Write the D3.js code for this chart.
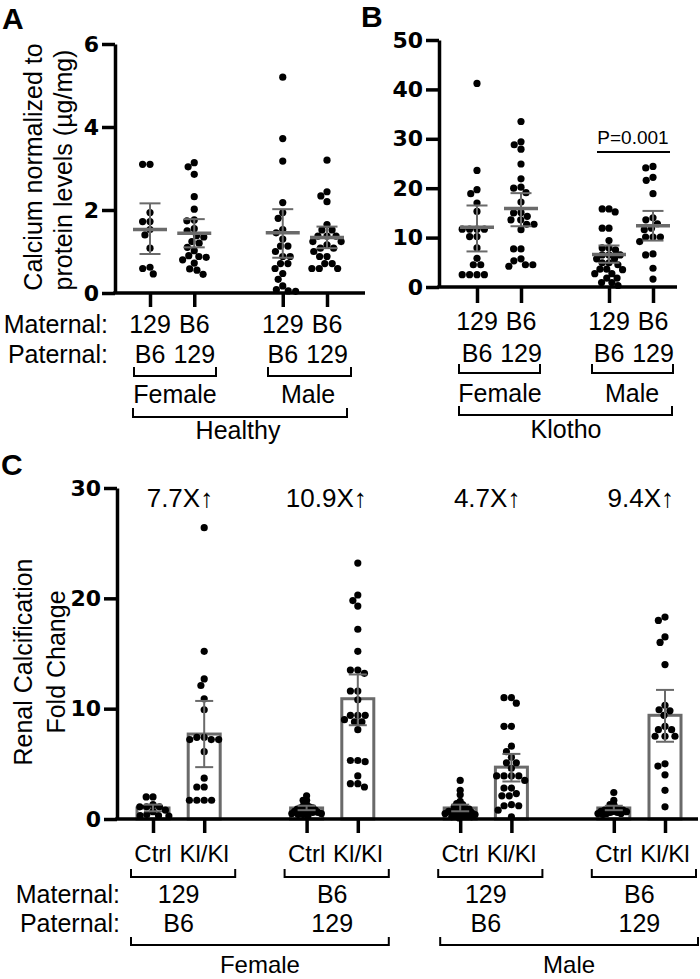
<!DOCTYPE html>
<html><head><meta charset="utf-8">
<script src="https://cdn.jsdelivr.net/npm/d3@7"></script>
<style>
body{margin:0;background:#fff}
svg{display:block}
text{font-family:"Liberation Sans",Arial,sans-serif;fill:#000}
</style>
</head><body>
<svg id="chart" width="700" height="979"></svg>
<script>
// ---------------- DATA ----------------
// Panel A (Healthy)
const aMaternal = ["129", "B6", "129", "B6"];
const aPaternal = ["B6", "129", "B6", "129"];
const aPos = [0, 1, 3, 4];
const aValues = [
  [3.10, 3.10, 1.94, 1.72, 1.72, 1.53, 1.40, 1.08, 0.62, 0.59, 0.46],
  [3.14, 3.04, 2.86, 2.32, 2.02, 1.76, 1.74, 1.55, 1.50, 1.38, 1.35, 1.24, 1.20, 1.10, 1.02, 0.90, 0.88, 0.86, 0.80, 0.72, 0.58, 0.55, 0.45],
  [5.20, 3.72, 3.18, 2.18, 1.94, 1.80, 1.53, 1.45, 1.30, 1.13, 1.13, 1.00, 0.88, 0.88, 0.71, 0.71, 0.59, 0.47, 0.33, 0.17, 0.08, 0.05, 0.04],
  [3.20, 2.44, 2.34, 2.20, 1.65, 1.52, 1.52, 1.37, 1.37, 1.37, 1.24, 1.24, 1.16, 1.08, 1.08, 1.00, 0.88, 0.88, 0.71, 0.71, 0.59, 0.59, 0.59]
];
const aMean = [1.53, 1.44, 1.45, 1.34];
const aLow = [0.94, 1.10, 0.85, 1.08];
const aHigh = [2.16, 1.78, 2.02, 1.60];
const aTicks = [0, 2, 4, 6];
const aSex = ["Female", "Male"];

// Panel B (Klotho)
const bMaternal = ["129", "B6", "129", "B6"];
const bPaternal = ["B6", "129", "B6", "129"];
const bPos = [0, 1, 3, 4];
const bValues = [
  [41.2, 23.6, 19.7, 18.9, 17.0, 15.3, 11.7, 11.7, 11.7, 11.7, 10.2, 10.2, 7.9, 5.8, 4.5, 4.5, 2.5, 2.5, 2.5, 2.5],
  [33.5, 29.4, 28.8, 27.9, 24.9, 21.9, 20.2, 20.0, 19.1, 17.2, 15.1, 15.0, 14.3, 13.6, 13.6, 12.7, 12.7, 11.6, 7.7, 7.7, 5.7, 5.3, 4.5, 4.5, 4.2],
  [15.2, 15.8, 15.8, 11.9, 11.9, 9.4, 7.9, 7.9, 7.5, 6.5, 6.5, 6.5, 5.7, 5.7, 4.9, 4.9, 4.5, 3.6, 3.6, 3.5, 2.7, 2.7, 1.8, 1.8, 0.9, 0.9, 0.3],
  [24.4, 24.1, 22.2, 21.6, 18.9, 14.0, 13.6, 12.8, 11.9, 11.6, 10.1, 10.1, 10.1, 9.2, 6.7, 6.5, 3.8, 1.6]
];
const bMean = [12.1, 15.9, 6.6, 12.4];
const bLow = [7.2, 12.3, 4.9, 9.4];
const bHigh = [16.5, 19.0, 8.4, 15.4];
const bTicks = [0, 10, 20, 30, 40, 50];
const bPvalue = "P=0.001";

// Panel C (fold change)
const cLabels = ["Ctrl", "Kl/Kl", "Ctrl", "Kl/Kl", "Ctrl", "Kl/Kl", "Ctrl", "Kl/Kl"];
const cPos = [0, 1, 3, 4, 6, 7, 9, 10];
const cValues = [
  [2.0, 2.0, 1.3, 1.1, 1.1, 1.1, 0.8, 0.66, 0.4, 0.3, 0.3, 0.27],
  [26.4, 15.2, 12.7, 12.1, 10.9, 9.9, 7.4, 7.2, 7.2, 7.2, 7.4, 6.1, 3.7, 2.9, 2.9, 1.7, 1.7, 1.7, 1.7],
  [2.1, 1.7, 1.7, 1.3, 1.2, 1.1, 1.0, 1.0, 0.9, 0.9, 0.8, 0.8, 0.7, 0.7, 0.66, 0.6, 0.6, 0.57, 0.5, 0.5, 0.4, 0.4, 0.3],
  [23.2, 20.3, 19.8, 19.3, 17.2, 15.2, 13.5, 13.5, 13.2, 11.6, 11.6, 10.8, 9.4, 9.4, 9.4, 9.0, 8.8, 8.8, 8.1, 5.3, 5.3, 5.2, 3.9, 3.2, 3.2, 2.9],
  [3.5, 2.6, 2.2, 1.6, 1.4, 1.3, 1.1, 1.1, 1.0, 0.9, 0.8, 0.8, 0.7, 0.7, 0.6, 0.6, 0.5, 0.5, 0.4, 0.4, 0.3, 0.3, 0.2, 0.2, 0.1],
  [11.0, 11.0, 10.5, 8.4, 8.4, 6.6, 6.1, 5.6, 5.1, 5.1, 4.6, 3.9, 3.9, 3.9, 3.9, 3.5, 2.8, 2.8, 2.3, 2.1, 2.1, 1.3, 1.2, 1.2, 0.8, 0.2],
  [2.4, 1.7, 1.3, 1.3, 1.0, 1.0, 0.9, 0.9, 0.8, 0.8, 0.7, 0.7, 0.66, 0.6, 0.6, 0.5, 0.5, 0.5, 0.4],
  [18.3, 18.0, 16.5, 16.0, 14.0, 10.3, 9.9, 9.8, 9.4, 8.4, 8.1, 8.1, 7.5, 7.5, 7.5, 5.0, 4.8, 4.0, 2.6, 1.1]
];
const cMean = [1.0, 7.7, 1.0, 10.9, 1.0, 4.7, 1.0, 9.4];
const cLow = [0.7, 4.7, 0.8, 8.5, 0.7, 3.4, 0.8, 7.0];
const cHigh = [1.3, 10.7, 1.2, 13.1, 1.3, 5.9, 1.2, 11.7];
const cFold = ["7.7X\u2191", "10.9X\u2191", "4.7X\u2191", "9.4X\u2191"];
const cMaternal = ["129", "B6", "129", "B6"];
const cPaternal = ["B6", "129", "B6", "129"];
const cTicks = [0, 10, 20, 30];
const cSex = ["Female", "Male"];

// ---------------- DRAWING ----------------
const svg = d3.select("#chart");
const GREY = "#6a6a6a";
const TICKFONT = '"DejaVu Sans", sans-serif';

function swarm(vals, y, cx, D0, maxHalf) {
  const sorted = vals.map(v => ({v, y: y(v)})).sort((a, b) => a.y - b.y);
  let D = D0;
  for (let iter = 0; iter < 40; iter++) {
    const placed = []; let ok = true;
    for (const p of sorted) {
      const cands = [0];
      for (const q of placed) {
        const dy = Math.abs(q.y - p.y);
        if (dy < D) { const dx = Math.sqrt(D * D - dy * dy); cands.push(q.dx + dx, q.dx - dx); }
      }
      cands.sort((a, b) => Math.abs(a) - Math.abs(b) || a - b);
      let best = null;
      for (const c of cands) {
        if (placed.every(q => (q.dx - c) ** 2 + (q.y - p.y) ** 2 >= D * D - 0.01)) { best = c; break; }
      }
      if (best === null || Math.abs(best) > maxHalf) { ok = false; break; }
      placed.push({v: p.v, y: p.y, dx: best});
    }
    if (ok) return placed.map(q => ({v: q.v, x: cx + q.dx, y: q.y}));
    D *= 0.92;
  }
  return sorted.map(p => ({v: p.v, x: cx, y: p.y}));
}

function yAxis(g, y, ticks, x0, fontSize, family) {
  const ax = d3.axisLeft(y).tickValues(ticks).tickFormat(d3.format("d")).tickSize(13).tickSizeOuter(0).tickPadding(3);
  const gg = g.append("g").attr("transform", `translate(${x0},0)`).call(ax);
  gg.select(".domain").attr("stroke", "#000").attr("stroke-width", 3.5);
  gg.selectAll(".tick line").attr("stroke", "#000").attr("stroke-width", 3.5);
  gg.selectAll(".tick text").attr("font-size", fontSize).attr("font-weight", "bold")
    .style("font-family", family).attr("fill", "#000");
  return gg;
}

function xAxisLine(g, x0, x1, y0, tickXs, len) {
  g.append("line").attr("x1", x0 - 1.75).attr("x2", x1).attr("y1", y0).attr("y2", y0)
    .attr("stroke", "#000").attr("stroke-width", 3.5);
  const ax = d3.axisBottom(d3.scaleIdentity()).tickValues(tickXs).tickSize(len).tickSizeOuter(0).tickFormat("");
  const gg = g.append("g").attr("transform", `translate(0,${y0})`).call(ax);
  gg.select(".domain").remove();
  gg.selectAll(".tick line").attr("stroke", "#000").attr("stroke-width", 3.5);
}

function bracket(g, x0, x1, yb, h) {
  g.append("path").attr("d", `M${x0},${yb - h}V${yb}H${x1}V${yb - h}`)
    .attr("fill", "none").attr("stroke", "#000").attr("stroke-width", 2);
}

function txt(g, x, y, s, size, anchor, extra) {
  const t = g.append("text").attr("x", x).attr("y", y).attr("font-size", size)
    .attr("text-anchor", anchor || "middle").text(s);
  if (extra) extra(t);
  return t;
}

function scatterPanel(g, values, means, lows, highs, x, y, maxHalf) {
  values.forEach((vals, i) => {
    const cx = x(i);
    const pts = swarm(vals, y, cx, 7.4, maxHalf);
    g.append("g").selectAll("circle").data(pts).join("circle")
      .attr("cx", d => d.x).attr("cy", d => d.y).attr("r", 3.6).attr("fill", "#000");
  });
  values.forEach((vals, i) => {
    const cx = x(i);
    const eg = g.append("g").attr("stroke", GREY);
    eg.append("line").attr("x1", cx).attr("x2", cx).attr("y1", y(lows[i])).attr("y2", y(highs[i])).attr("stroke-width", 2);
    [lows[i], highs[i]].forEach(v => eg.append("line").attr("x1", cx - 10.5).attr("x2", cx + 10.5)
      .attr("y1", y(v)).attr("y2", y(v)).attr("stroke-width", 2));
    eg.append("line").attr("x1", cx - 17).attr("x2", cx + 17).attr("y1", y(means[i])).attr("y2", y(means[i])).attr("stroke-width", 3.5);
  });
}

// ===== Panel A =====
const gA = svg.append("g");
const yA = d3.scaleLinear().domain([0, 6]).range([293, 44]);
const xAidx = d3.scaleLinear().domain([0, 4]).range([150, 327]);
const xA = i => xAidx(aPos[i]);
txt(gA, 2, 29, "A", 30, "start", t => t.attr("font-weight", "bold"));
yAxis(gA, yA, aTicks, 115, 22, TICKFONT);
xAxisLine(gA, 115, 365, 293, aPos.map((p, i) => xA(i)), 14);
scatterPanel(gA, aValues, aMean, aLow, aHigh, xA, yA, 16);
// y label
[["Calcium normalized to", 42, 167], ["protein levels (\u00b5g/mg)", 72, 170]].forEach(([s, bx, cy]) => {
  gA.append("text").attr("transform", `translate(${bx},${cy}) rotate(-90)`).attr("text-anchor", "middle")
    .attr("font-size", 25).text(s);
});
txt(gA, 108, 333, "Maternal:", 25, "end");
txt(gA, 108, 363, "Paternal:", 25, "end");
aMaternal.forEach((s, i) => txt(gA, xA(i), 333, s, 25));
aPaternal.forEach((s, i) => txt(gA, xA(i), 363, s, 25));
bracket(gA, 134, 216, 376, 9);
bracket(gA, 268, 351, 376, 9);
txt(gA, 175, 403, aSex[0], 25);
txt(gA, 308, 403, aSex[1], 25);
bracket(gA, 133, 347, 417, 9);
txt(gA, 238, 439, "Healthy", 25);

// ===== Panel B =====
const gB = svg.append("g");
const yB = d3.scaleLinear().domain([0, 50]).range([287, 40]);
const xBidx = d3.scaleLinear().domain([0, 4]).range([477, 653]);
const xB = i => xBidx(bPos[i]);
txt(gB, 361, 27, "B", 30, "start", t => t.attr("font-weight", "bold"));
yAxis(gB, yB, bTicks, 439, 22, TICKFONT);
xAxisLine(gB, 439, 677, 287, bPos.map((p, i) => xB(i)), 16);
scatterPanel(gB, bValues, bMean, bLow, bHigh, xB, yB, 16);
gB.append("line").attr("x1", 597).attr("x2", 670).attr("y1", 152).attr("y2", 152).attr("stroke", "#000").attr("stroke-width", 2);
txt(gB, 633, 144, bPvalue, 19);
bMaternal.forEach((s, i) => txt(gB, xB(i), 330, s, 25));
bPaternal.forEach((s, i) => txt(gB, xB(i), 362, s, 25));
bracket(gB, 459, 540, 373, 9);
bracket(gB, 592, 673, 373, 9);
txt(gB, 500, 402, aSex[0], 25);
txt(gB, 632, 402, aSex[1], 25);
bracket(gB, 459, 672, 415, 9);
txt(gB, 566, 438, "Klotho", 25);

// ===== Panel C =====
const gC = svg.append("g");
const yC = d3.scaleLinear().domain([0, 30]).range([819, 488]);
const xCidx = d3.scaleLinear().domain([0, 10]).range([153, 665]);
const xC = i => xCidx(cPos[i]);
txt(gC, 1, 475, "C", 30, "start", t => t.attr("font-weight", "bold"));
// bars
cValues.forEach((vals, i) => {
  gC.append("rect").attr("x", xC(i) - 16).attr("width", 32).attr("y", yC(cMean[i]))
    .attr("height", yC(0) - yC(cMean[i])).attr("fill", "#fff").attr("stroke", GREY).attr("stroke-width", 3);
});
cValues.forEach((vals, i) => {
  const pts = swarm(vals, yC, xC(i), 7.4, 16);
  gC.append("g").selectAll("circle").data(pts).join("circle")
    .attr("cx", d => d.x).attr("cy", d => d.y).attr("r", 3.6).attr("fill", "#000");
});
cValues.forEach((vals, i) => {
  const cx = xC(i);
  const eg = gC.append("g").attr("stroke", GREY).attr("stroke-width", 2);
  eg.append("line").attr("x1", cx).attr("x2", cx).attr("y1", yC(cLow[i])).attr("y2", yC(cHigh[i]));
  [cLow[i], cHigh[i]].forEach(v => eg.append("line").attr("x1", cx - 9).attr("x2", cx + 9).attr("y1", yC(v)).attr("y2", yC(v)));
});
yAxis(gC, yC, cTicks, 117, 22, TICKFONT);
xAxisLine(gC, 117, 698, 819, cPos.map((p, i) => xC(i)), 14);
[["Renal Calcification", 32, 662], ["Fold Change", 65, 662]].forEach(([s, bx, cy]) => {
  gC.append("text").attr("transform", `translate(${bx},${cy}) rotate(-90)`).attr("text-anchor", "middle")
    .attr("font-size", 25).text(s);
});
cFold.forEach((s, k) => txt(gC, xC(2 * k + 1) + 9, 507, s, 26, "end"));
cLabels.forEach((s, i) => txt(gC, xC(i), 862, s, 24));
txt(gC, 120, 903, "Maternal:", 25, "end");
txt(gC, 120, 932, "Paternal:", 25, "end");
cMaternal.forEach((s, k) => {
  const cx = (xC(2 * k) + xC(2 * k + 1)) / 2;
  txt(gC, cx, 903, s, 25);
  txt(gC, cx, 932, cPaternal[k], 25);
  bracket(gC, xC(2 * k) - 22, xC(2 * k + 1) + 31, 877, 8);
});
bracket(gC, xC(0) - 22, xC(3) + 31, 945, 8);
bracket(gC, xC(4) - 20, xC(7) + 33, 945, 8);
txt(gC, (xC(0) - 22 + xC(3) + 31) / 2, 973, cSex[0], 24);
txt(gC, (xC(4) - 20 + xC(7) + 33) / 2, 973, cSex[1], 24);
</script>
</body></html>
